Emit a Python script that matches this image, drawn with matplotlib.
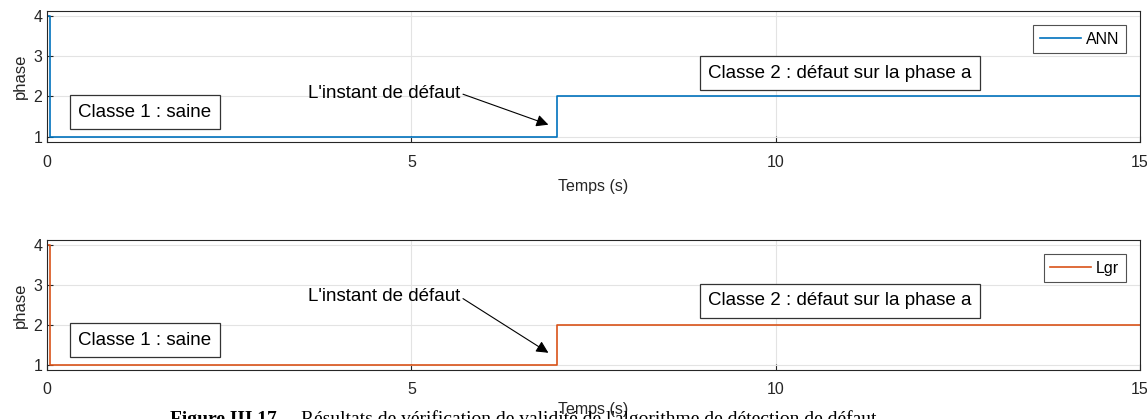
import matplotlib.pyplot as plt

# step signals: phase class vs time
t = [0, 0.04, 0.04, 7.0, 7.0, 15]
ann = [4, 4, 1, 1, 2, 2]
lgr = [4, 4, 1, 1, 2, 2]

xticks = [0, 5, 10, 15]
yticks = [1, 2, 3, 4]

plt.rcParams['font.family'] = ['Liberation Sans', 'DejaVu Sans']

fig = plt.figure(figsize=(11.47, 4.19), dpi=100)

panels = [
    # series, label, colour, axes rect, y of L'instant text, y of Classe 2 box, xlabel pad
    (ann, 'ANN', '#0072BD', [0.041, 0.661, 0.953, 0.313], 2.08, 2.58, 7),
    (lgr, 'Lgr', '#D95319', [0.041, 0.117, 0.953, 0.310], 2.70, 2.60, 3),
]

box = dict(boxstyle='square,pad=0.45', fc='white', ec='#333333', lw=0.9)

for y, name, color, rect, y_inst, y_cl2, lpad in panels:
    ax = fig.add_axes(rect)
    ax.plot(t, y, color=color, lw=1.2, label=name)
    ax.set_xlim(0, 15)
    ax.set_ylim(0.87, 4.12)
    ax.set_xticks(xticks)
    ax.set_yticks(yticks)
    ax.grid(True, color='#e3e3e3', lw=0.8)
    ax.set_axisbelow(True)
    ax.tick_params(direction='in', length=4, labelsize=11.5, colors='#262626')
    ax.tick_params(axis='x', pad=9)
    for s in ax.spines.values():
        s.set_color('#262626')
        s.set_linewidth(0.8)
    ax.set_xlabel('Temps (s)', fontsize=11.5, color='#262626', labelpad=lpad)
    ax.set_ylabel('phase', fontsize=12, color='#262626', labelpad=4)

    ax.text(1.34, 1.61, 'Classe 1 : saine',
            fontsize=13.5, ha='center', va='center', bbox=box)
    ax.text(10.88, y_cl2, 'Classe 2 : défaut sur la phase a',
            fontsize=13.5, ha='center', va='center', bbox=box)
    ax.annotate("L'instant de défaut", xy=(6.88, 1.3), xytext=(5.67, y_inst),
                fontsize=13.5, ha='right', va='center',
                arrowprops=dict(arrowstyle='-|>', color='black', lw=0.8,
                                mutation_scale=18, shrinkA=0, shrinkB=0,
                                relpos=(1.0, 0.5)))

    leg = ax.legend(loc='upper right', fontsize=11.5, fancybox=False,
                    edgecolor='#262626', handlelength=2.6, handletextpad=0.3,
                    borderpad=0.4, borderaxespad=0.9)
    leg.get_frame().set_linewidth(0.8)

# figure caption, cut off at the bottom edge like in the source scan
fig.text(0.148, 0.02, "Figure III.17", family='Liberation Serif',
         fontsize=14, weight='bold', ha='left', va='top')
fig.text(0.262, 0.02,
         "Résultats de vérification de validité de l'algorithme de détection de défaut",
         family='Liberation Serif', fontsize=14, ha='left', va='top')

fig.savefig('out.png', dpi=100)
